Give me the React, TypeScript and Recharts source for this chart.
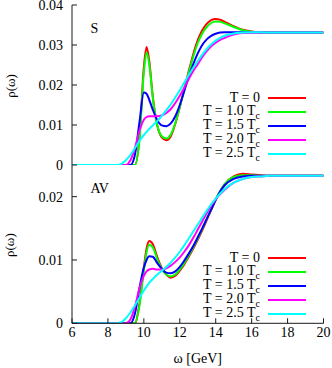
import React from 'react';
import { LineChart, Line, XAxis, YAxis, Legend } from 'recharts';

// omega grid [GeV]
const omega = [6, 8, 8.5, 8.75, 9, 9.25, 9.5, 9.75, 10, 10.15, 10.3, 10.5, 10.75, 11, 11.25, 11.5, 11.75, 12, 12.25, 12.5, 12.75, 13, 13.25, 13.5, 13.75, 14, 14.25, 14.5, 15, 15.5, 16, 16.5, 17, 18, 20];

// scalar channel
const sT0 = [0, 0, 0, 0, 0, 0, 0, 0.0065, 0.0245, 0.0295, 0.026, 0.017, 0.0098, 0.0069, 0.0062, 0.0072, 0.0103, 0.0145, 0.019, 0.0235, 0.0277, 0.0312, 0.0337, 0.0353, 0.0362, 0.0365, 0.0363, 0.0358, 0.0347, 0.0338, 0.0334, 0.0332, 0.0331, 0.0331, 0.0331];
const sT10 = [0, 0, 0, 0, 0, 0, 0, 0.006, 0.0232, 0.0281, 0.0252, 0.0168, 0.0099, 0.0072, 0.0066, 0.0076, 0.0105, 0.0145, 0.0188, 0.0231, 0.0271, 0.0305, 0.0329, 0.0345, 0.0355, 0.0359, 0.0358, 0.0354, 0.0345, 0.0337, 0.0333, 0.0332, 0.0331, 0.0331, 0.0331];
const sT15 = [0, 0, 0, 0, 0, 0, 0.0025, 0.0105, 0.0181, 0.0178, 0.0163, 0.0138, 0.0112, 0.0099, 0.0097, 0.0104, 0.0122, 0.015, 0.0185, 0.022, 0.0252, 0.0279, 0.03, 0.0314, 0.0323, 0.0328, 0.0331, 0.0332, 0.0332, 0.0332, 0.0331, 0.0331, 0.0331, 0.0331, 0.0331];
const sT20 = [0, 0, 0, 0, 0, 0.0012, 0.0042, 0.0085, 0.0113, 0.012, 0.0122, 0.0122, 0.0122, 0.0124, 0.013, 0.014, 0.0155, 0.0173, 0.0193, 0.0215, 0.0235, 0.0252, 0.027, 0.0285, 0.0297, 0.0306, 0.0313, 0.0318, 0.0326, 0.033, 0.0331, 0.0331, 0.0331, 0.0331, 0.0331];
const sT25 = [0, 0, 0, 0.0003, 0.0012, 0.0025, 0.0042, 0.006, 0.0075, 0.0083, 0.009, 0.0099, 0.011, 0.0123, 0.0137, 0.0152, 0.0169, 0.0187, 0.0206, 0.0225, 0.0243, 0.026, 0.0276, 0.029, 0.0302, 0.0311, 0.0318, 0.0323, 0.0329, 0.0331, 0.0332, 0.0332, 0.0331, 0.0331, 0.0331];

// axial-vector channel
const avT0 = [0, 0, 0, 0, 0, 0, 0, 0.003, 0.0088, 0.0118, 0.013, 0.0125, 0.0104, 0.0087, 0.0077, 0.0072, 0.0075, 0.0083, 0.0093, 0.0105, 0.0118, 0.0132, 0.0147, 0.0163, 0.0179, 0.0195, 0.0209, 0.022, 0.0232, 0.0236, 0.0235, 0.0234, 0.0233, 0.0233, 0.0233];
const avT10 = [0, 0, 0, 0, 0, 0, 0, 0.0027, 0.0083, 0.0112, 0.0124, 0.012, 0.0101, 0.0086, 0.0077, 0.0074, 0.0077, 0.0085, 0.0095, 0.0107, 0.012, 0.0134, 0.0149, 0.0165, 0.018, 0.0196, 0.0209, 0.022, 0.0231, 0.0234, 0.0234, 0.0233, 0.0233, 0.0233, 0.0233];
const avT15 = [0, 0, 0, 0, 0, 0, 0.0015, 0.0055, 0.0088, 0.01, 0.0106, 0.0105, 0.0095, 0.0086, 0.008, 0.0079, 0.0082, 0.0089, 0.0099, 0.011, 0.0122, 0.0136, 0.015, 0.0165, 0.018, 0.0195, 0.0208, 0.0218, 0.0228, 0.0232, 0.0233, 0.0233, 0.0233, 0.0233, 0.0233];
const avT20 = [0, 0, 0, 0, 0, 0.0006, 0.0026, 0.0055, 0.0075, 0.0082, 0.0085, 0.0086, 0.0085, 0.0085, 0.0087, 0.0091, 0.0097, 0.0104, 0.0113, 0.0123, 0.0135, 0.0148, 0.0161, 0.0174, 0.0186, 0.0196, 0.0204, 0.0211, 0.0222, 0.0228, 0.0231, 0.0232, 0.0233, 0.0233, 0.0233];
const avT25 = [0, 0, 0, 0.0002, 0.0008, 0.0017, 0.0028, 0.004, 0.0052, 0.0058, 0.0064, 0.007, 0.0077, 0.0083, 0.0089, 0.0096, 0.0104, 0.0113, 0.0123, 0.0134, 0.0145, 0.0156, 0.0167, 0.0178, 0.0188, 0.0197, 0.0205, 0.0212, 0.0222, 0.0228, 0.0231, 0.0232, 0.0233, 0.0233, 0.0233];

const xTicks = [6, 8, 10, 12, 14, 16, 18, 20];
const sTicks = [0, 0.01, 0.02, 0.03, 0.04];
const avTicks = [0, 0.01, 0.02];

const temps = ['0', '1.0', '1.5', '2.0', '2.5'];
const keys = ['t0', 't10', 't15', 't20', 't25'];
const colors = ['#ff0000', '#00ff00', '#0000ff', '#ff00ff', '#00ffff'];

const sData = omega.map((w, i) => ({ w, t0: sT0[i], t10: sT10[i], t15: sT15[i], t20: sT20[i], t25: sT25[i] }));
const avData = omega.map((w, i) => ({ w, t0: avT0[i], t10: avT10[i], t15: avT15[i], t20: avT20[i], t25: avT25[i] }));

const FONT = '"Liberation Serif", "DejaVu Serif", serif';
const AXIS = '#1a1a1a';
const tickStyle = { fill: '#000', fontSize: 14, fontFamily: FONT };
const fmt = (v: number) => (v === 0 ? '0' : v.toFixed(2));

const YTitle = (props: any) => {
  const vb = props.viewBox;
  const cx = vb.x + 10;
  const cy = vb.y + vb.height / 2 + 1;
  return (
    <text x={cx} y={cy} transform={`rotate(-90 ${cx} ${cy})`} textAnchor="middle" dominantBaseline="central"
      fontFamily={FONT} fontSize={13} fill="#000">ρ(ω)</text>
  );
};

const renderLegend = (props: any) => (
  <div style={{ fontFamily: FONT, fontSize: 14, color: '#000' }}>
    {(props.payload || []).map((p: any) => {
      const i = keys.indexOf(p.dataKey);
      return (
        <div key={p.dataKey} style={{ display: 'flex', justifyContent: 'flex-end', alignItems: 'center', height: 14, lineHeight: '14px' }}>
          <span style={{ whiteSpace: 'nowrap' }}>
            T = {temps[i]}
            {i > 0 && <> T<span style={{ fontSize: 10, position: 'relative', top: 4 }}>c</span></>}
          </span>
          <span style={{ display: 'inline-block', width: 38, height: 2, background: p.color, marginLeft: 8 }} />
        </div>
      );
    })}
  </div>
);

const Panel = ({ data, ticks, max, height, top, bottom, bottomH, legendTop }: any) => (
  <LineChart width={332} height={height} data={data} margin={{ top, right: 8.5, bottom, left: 0 }}>
    <XAxis xAxisId="b" dataKey="w" type="number" domain={[6, 20]} ticks={xTicks} interval={0} allowDataOverflow
      orientation="bottom" height={bottomH} tick={bottomH > 0 ? tickStyle : false} tickSize={-5} tickMargin={9}
      axisLine={{ stroke: AXIS }} tickLine={{ stroke: AXIS }}
      label={bottomH > 0 ? { value: 'ω [GeV]', position: 'insideBottom', offset: 5, fill: '#000', fontSize: 14, fontFamily: FONT } : undefined} />
    <XAxis xAxisId="t" dataKey="w" type="number" domain={[6, 20]} ticks={xTicks} interval={0} allowDataOverflow
      orientation="top" height={0} tick={false} tickSize={-5} axisLine={{ stroke: AXIS }} tickLine={{ stroke: AXIS }} />
    <YAxis yAxisId="l" type="number" domain={[0, max]} ticks={ticks} interval={0} allowDataOverflow width={72}
      tick={tickStyle} tickFormatter={fmt} tickSize={-5} tickMargin={14}
      axisLine={{ stroke: AXIS }} tickLine={{ stroke: AXIS }} label={<YTitle />} />
    <YAxis yAxisId="r" orientation="right" type="number" domain={[0, max]} ticks={ticks} interval={0} allowDataOverflow width={0}
      tick={false} tickSize={-5} axisLine={{ stroke: AXIS }} tickLine={{ stroke: AXIS }} />
    <Legend layout="vertical" align="center" verticalAlign="middle" content={renderLegend}
      wrapperStyle={{ top: legendTop, left: 150, width: 156 }} />
    {keys.map((k, i) => (
      <Line key={k} xAxisId="b" yAxisId="l" dataKey={k} type="monotone" stroke={colors[i]} strokeWidth={2}
        dot={false} isAnimationActive={false} />
    ))}
  </LineChart>
);

export default function App() {
  return (
    <div style={{ position: 'absolute', left: 0, top: 0, width: 332, height: 368, background: '#fff', fontFamily: FONT }}>
      <div style={{ position: 'absolute', left: 0, top: 0 }}>
        <Panel data={sData} ticks={sTicks} max={0.04} height={173} top={5} bottom={8} bottomH={0} legendTop={90.7} />
      </div>
      <div style={{ position: 'absolute', left: 0, top: 165 }}>
        <Panel data={avData} ticks={avTicks} max={0.025} height={203} top={0} bottom={0} bottomH={44.7} legendTop={85.7} />
      </div>
      <div style={{ position: 'absolute', left: 90.5, top: 22, fontSize: 14, lineHeight: '14px', color: '#000' }}>S</div>
      <div style={{ position: 'absolute', left: 90.5, top: 181.5, fontSize: 14, lineHeight: '14px', color: '#000' }}>AV</div>
    </div>
  );
}
